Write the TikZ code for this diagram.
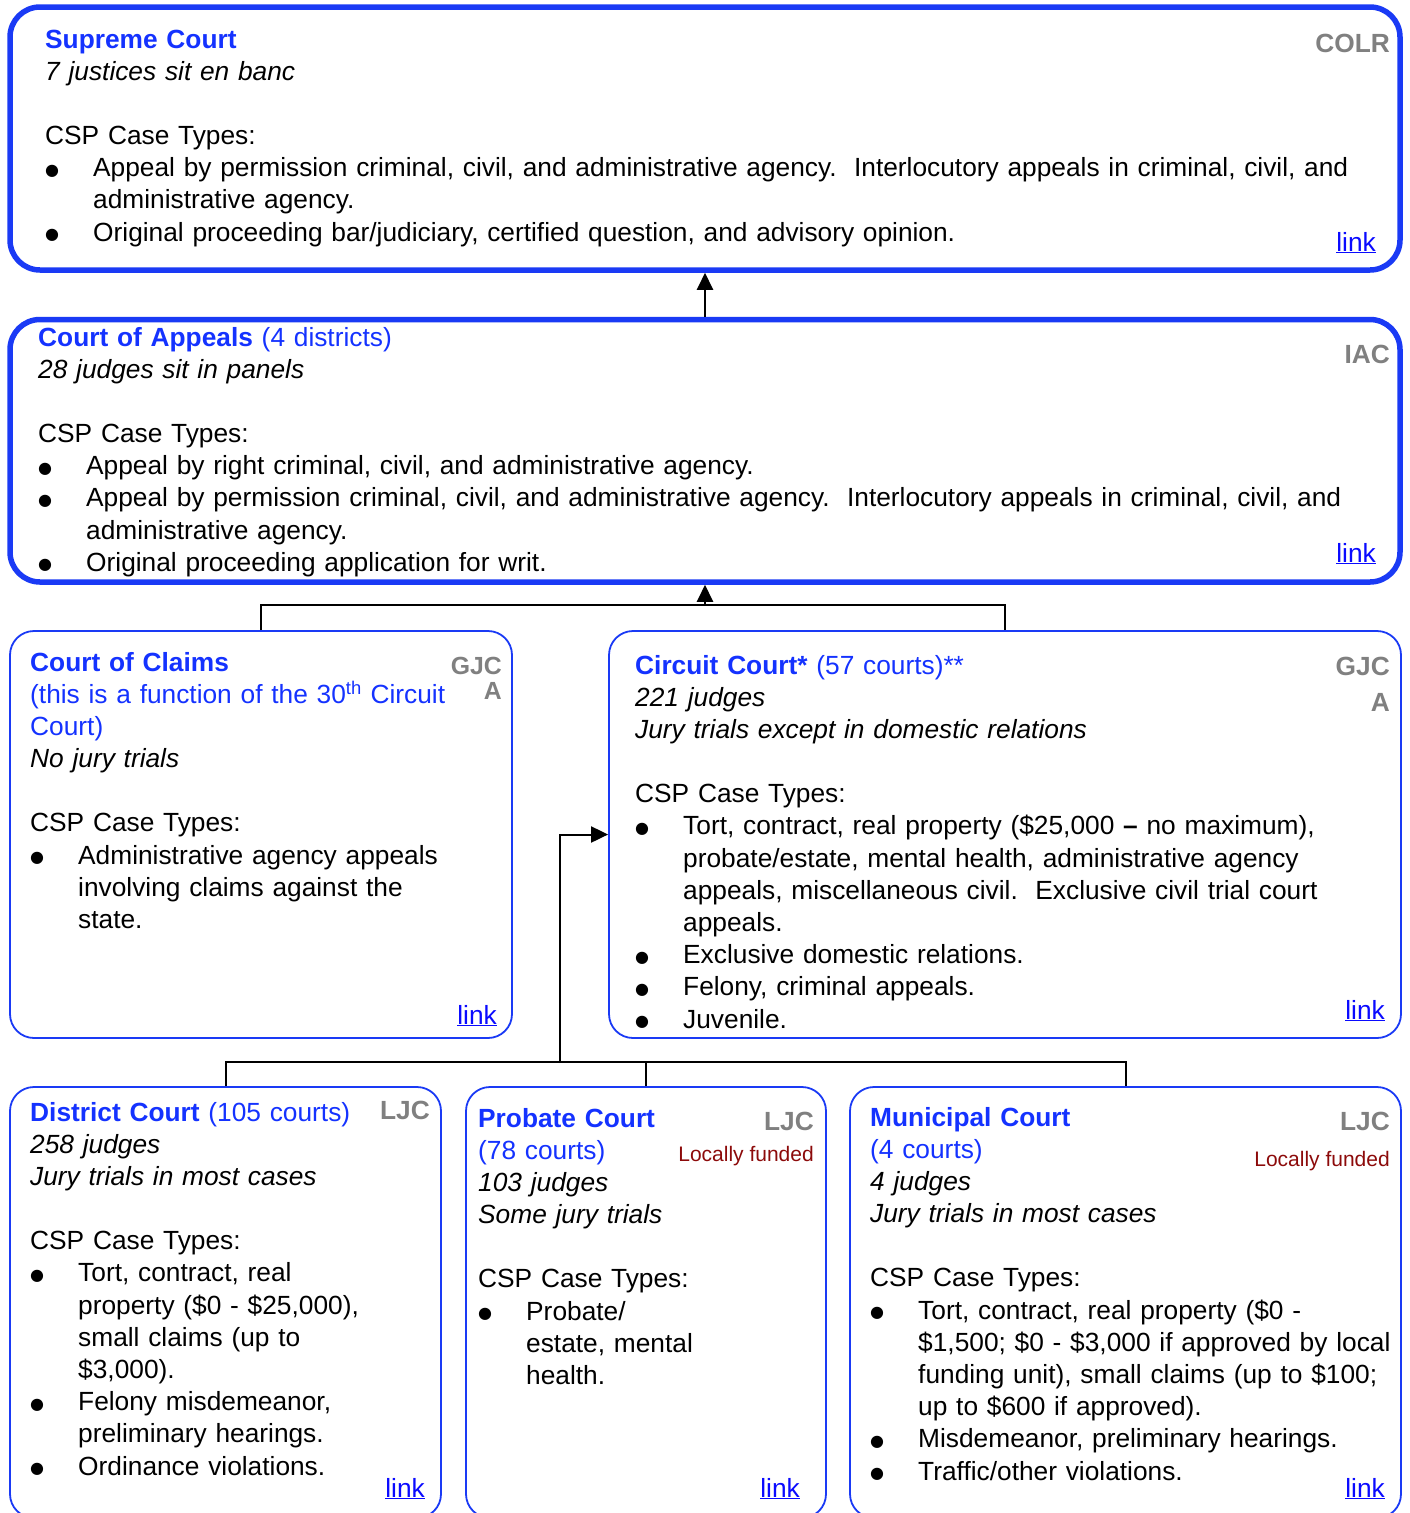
\documentclass[tikz,border=0pt]{standalone}
\usepackage{fontspec}
\setmainfont{Liberation Sans}
\newfontfamily\dotfont{DejaVu Sans}
\usetikzlibrary{arrows.meta}

\definecolor{courtblue}{RGB}{26,58,245}
\definecolor{titleblue}{RGB}{20,50,255}
\definecolor{linkblue}{RGB}{10,10,255}
\definecolor{taggray}{RGB}{128,128,128}
\definecolor{fundred}{RGB}{140,10,10}

\newcommand{\itembul}{\makebox[48pt][l]{\raisebox{1.5pt}{\dotfont\fontsize{16}{16}\selectfont ●}}}
\newcommand{\itemind}{\hspace*{48pt}}
\newcommand{\ctitle}[1]{{\color{titleblue}#1}}

\begin{document}
\begin{tikzpicture}[x=1pt, y=-1pt, >={Triangle[length=17pt,width=16pt]},
  bigcourt/.style={draw=courtblue, line width=5.5pt, rounded corners=30pt, inner sep=0pt},
  court/.style={draw=courtblue, line width=1.8pt, rounded corners=24pt, inner sep=0pt},
  courttext/.style={anchor=base west, inner sep=0pt, text width=1400pt, align=left,
    font=\fontsize{26.3}{32.2}\selectfont},
  level/.style={anchor=base east, inner sep=0pt, text=taggray,
    font=\fontsize{26.3}{32.2}\selectfont\bfseries},
  funding/.style={anchor=base east, inner sep=0pt, text=fundred, font=\fontsize{21}{24}\selectfont},
  weblink/.style={anchor=base east, inner sep=0pt, text=linkblue, font=\fontsize{26.3}{32.2}\selectfont},
  conn/.style={line width=2pt, black}]

  \useasboundingbox (0,0) rectangle (1409,1513);

  % court boxes
  \node[bigcourt, minimum width=1390pt, minimum height=263pt] (supreme) at (705,138.5) {};
  \node[bigcourt, minimum width=1390pt, minimum height=262.5pt] (appeals) at (705,450.75) {};
  \node[court, minimum width=502pt, minimum height=407pt] (claims) at (261,834.5) {};
  \node[court, minimum width=792pt, minimum height=407pt] (circuit) at (1005,834.5) {};
  \node[court, minimum width=431pt, minimum height=431pt] (district) at (225.5,1302.5) {};
  \node[court, minimum width=360pt, minimum height=431pt] (probate) at (646,1302.5) {};
  \node[court, minimum width=551pt, minimum height=431pt] (municipal) at (1125.5,1302.5) {};

  % connectors
  \draw[conn, ->] (appeals.north) -- (supreme.south);
  \draw[conn] (claims.north) -- ++(0,-25) -| (circuit.north);
  \draw[conn, ->] ([yshift=-20pt]appeals.south) -- (appeals.south);
  \draw[conn] (district.north) -- ++(0,-24) -| (municipal.north);
  \draw[conn] (probate.north) -- ++(0,-24);
  \coordinate (circuitjoin) at (560,1063);
  \draw[conn, ->] (circuitjoin) |- (circuit.west);

  % Supreme Court
  \node[courttext] (supremetext) at (45,48) {%
    \ctitle{\textbf{Supreme Court}}\\
    \textit{7 justices sit en banc}\\[32pt]
    CSP Case Types:\\
    \itembul Appeal by permission criminal, civil, and administrative agency.\ \ Interlocutory appeals in criminal, civil, and\\
    \itemind administrative agency.\\
    \itembul Original proceeding bar/judiciary, certified question, and advisory opinion.};
  \node[level] (supremelevel) at (1390,52) {COLR};
  \node[weblink] (supremelink) at (1376,251) {\underline{link}};

  % Court of Appeals
  \node[courttext] (appealstext) at (38,346) {%
    \ctitle{\textbf{Court of Appeals} (4 districts)}\\
    \textit{28 judges sit in panels}\\[32pt]
    CSP Case Types:\\
    \itembul Appeal by right criminal, civil, and administrative agency.\\
    \itembul Appeal by permission criminal, civil, and administrative agency.\ \ Interlocutory appeals in criminal, civil, and\\
    \itemind administrative agency.\\
    \itembul Original proceeding application for writ.};
  \node[level] (appealslevel) at (1390,363) {IAC};
  \node[weblink] (appealslink) at (1376,562) {\underline{link}};

  % Court of Claims
  \node[courttext] (claimstext) at (30,671) {%
    \ctitle{\textbf{Court of Claims}}\\
    \ctitle{(this is a function of the 30\textsuperscript{th} Circuit}\\
    \ctitle{Court)}\\
    \textit{No jury trials}\\[32pt]
    CSP Case Types:\\
    \itembul Administrative agency appeals\\
    \itemind involving claims against the\\
    \itemind state.};
  \node[level, font=\fontsize{24.8}{25}\selectfont\bfseries, align=right] (claimslevel) at (502,699) {GJC\\A};
  \node[weblink] (claimslink) at (497,1024) {\underline{link}};

  % Circuit Court
  \node[courttext] (circuittext) at (635,674) {%
    \ctitle{\textbf{Circuit Court*} (57 courts)**}\\
    \textit{221 judges}\\
    \textit{Jury trials except in domestic relations}\\[32pt]
    CSP Case Types:\\
    \itembul Tort, contract, real property (\$25,000 \textbf{–} no maximum),\\
    \itemind probate/estate, mental health, administrative agency\\
    \itemind appeals, miscellaneous civil.\ \ Exclusive civil trial court\\
    \itemind appeals.\\
    \itembul Exclusive domestic relations.\\
    \itembul Felony, criminal appeals.\\
    \itembul Juvenile.};
  \node[level, font=\fontsize{26.3}{36}\selectfont\bfseries, align=right] (circuitlevel) at (1390,711) {GJC\\A};
  \node[weblink] (circuitlink) at (1385,1019) {\underline{link}};

  % District Court
  \node[courttext] (districttext) at (30,1121) {%
    \ctitle{\textbf{District Court} (105 courts)}\\
    \textit{258 judges}\\
    \textit{Jury trials in most cases}\\[32pt]
    CSP Case Types:\\
    \itembul Tort, contract, real\\
    \itemind property (\$0 - \$25,000),\\
    \itemind small claims (up to\\
    \itemind \$3,000).\\
    \itembul Felony misdemeanor,\\
    \itemind preliminary hearings.\\
    \itembul Ordinance violations.};
  \node[level] (districtlevel) at (430,1119) {LJC};
  \node[weblink] (districtlink) at (425,1497) {\underline{link}};

  % Probate Court
  \node[courttext] (probatetext) at (478,1127) {%
    \ctitle{\textbf{Probate Court}}\\
    \ctitle{(78 courts)}\\
    \textit{103 judges}\\
    \textit{Some jury trials}\\[32pt]
    CSP Case Types:\\
    \itembul Probate/\\
    \itemind estate, mental\\
    \itemind health.};
  \node[level] (probatelevel) at (814,1130) {LJC};
  \node[funding] (probatefunding) at (814,1161) {Locally funded};
  \node[weblink] (probatelink) at (800,1497) {\underline{link}};

  % Municipal Court
  \node[courttext] (municipaltext) at (870,1126) {%
    \ctitle{\textbf{Municipal Court}}\\
    \ctitle{(4 courts)}\\
    \textit{4 judges}\\
    \textit{Jury trials in most cases}\\[32pt]
    CSP Case Types:\\
    \itembul Tort, contract, real property (\$0 -\\
    \itemind \$1,500; \$0 - \$3,000 if approved by local\\
    \itemind funding unit), small claims (up to \$100;\\
    \itemind up to \$600 if approved).\\
    \itembul Misdemeanor, preliminary hearings.\\
    \itembul Traffic/other violations.};
  \node[level] (municipallevel) at (1390,1130) {LJC};
  \node[funding] (municipalfunding) at (1390,1166) {Locally funded};
  \node[weblink] (municipallink) at (1385,1497) {\underline{link}};
\end{tikzpicture}
\end{document}
